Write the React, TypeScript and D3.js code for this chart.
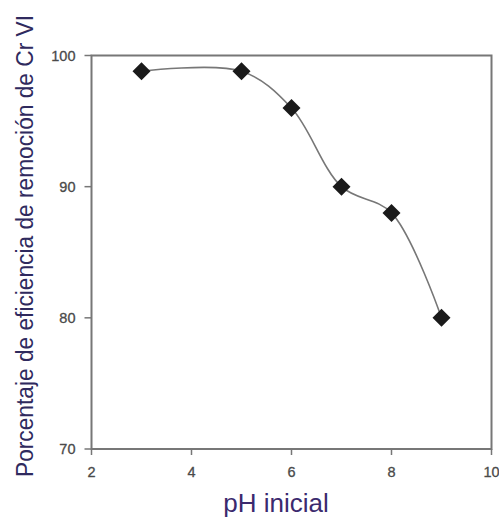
import React from "react";
import * as d3 from "d3";

const phValues = [3, 5, 6, 7, 8, 9];
const efficiency = [98.8, 98.8, 96, 90, 88, 80];
const xTicks = [2, 4, 6, 8, 10];
const yTicks = [70, 80, 90, 100];

export default function App() {
  const W = 499, H = 518;
  const left = 91.5, right = 491.5, top = 55.5, bottom = 449;
  const x = d3.scaleLinear().domain([2, 10]).range([left, right]);
  const y = d3.scaleLinear().domain([70, 100]).range([bottom, top]);
  const pts: [number, number][] = phValues.map((p, i) => [x(p), y(efficiency[i])]);
  const line = d3.line().curve(d3.curveCatmullRom.alpha(0.5))(pts) || "";
  const tickColor = "#4a4a4a";
  const font = "Liberation Sans, Arial, sans-serif";
  return (
    <svg width={W} height={H} style={{ position: "absolute", left: 0, top: 0 }}>
      <rect x={0} y={0} width={W} height={H} fill="#fff" />
      <rect x={left} y={top} width={right - left} height={bottom - top} fill="none" stroke="#777" strokeWidth={2} />
      {yTicks.map((t) => (
        <g key={t}>
          <line x1={left - 7} x2={left} y1={y(t)} y2={y(t)} stroke="#777" strokeWidth={1.5} />
          <text x={75.5} y={y(t)} dy="0.36em" textAnchor="end" fontFamily={font} fontSize={14.5} fill={tickColor} stroke={tickColor} strokeWidth={0.3}>{t}</text>
        </g>
      ))}
      {xTicks.map((t) => (
        <g key={t}>
          <line x1={x(t)} x2={x(t)} y1={bottom} y2={bottom + 6} stroke="#777" strokeWidth={1.5} />
          <text x={x(t)} y={476.5} textAnchor="middle" fontFamily={font} fontSize={14.5} fill={tickColor} stroke={tickColor} strokeWidth={0.3}>{t}</text>
        </g>
      ))}
      <path d={line} fill="none" stroke="#777" strokeWidth={1.6} />
      {pts.map(([px, py], i) => (
        <path key={i} d={`M${px},${py - 9}L${px + 9},${py}L${px},${py + 9}L${px - 9},${py}Z`} fill="#1a1a1a" />
      ))}
      <text x={276} y={512} textAnchor="middle" fontFamily={font} fontSize={26} fill="#3b2a6e">pH inicial</text>
      <text transform={`translate(33,246) rotate(-90)`} textAnchor="middle" fontFamily={font} fontSize={23} textLength={462} lengthAdjust="spacingAndGlyphs" fill="#2f2a5e">Porcentaje de eficiencia de remoción de Cr VI</text>
    </svg>
  );
}
